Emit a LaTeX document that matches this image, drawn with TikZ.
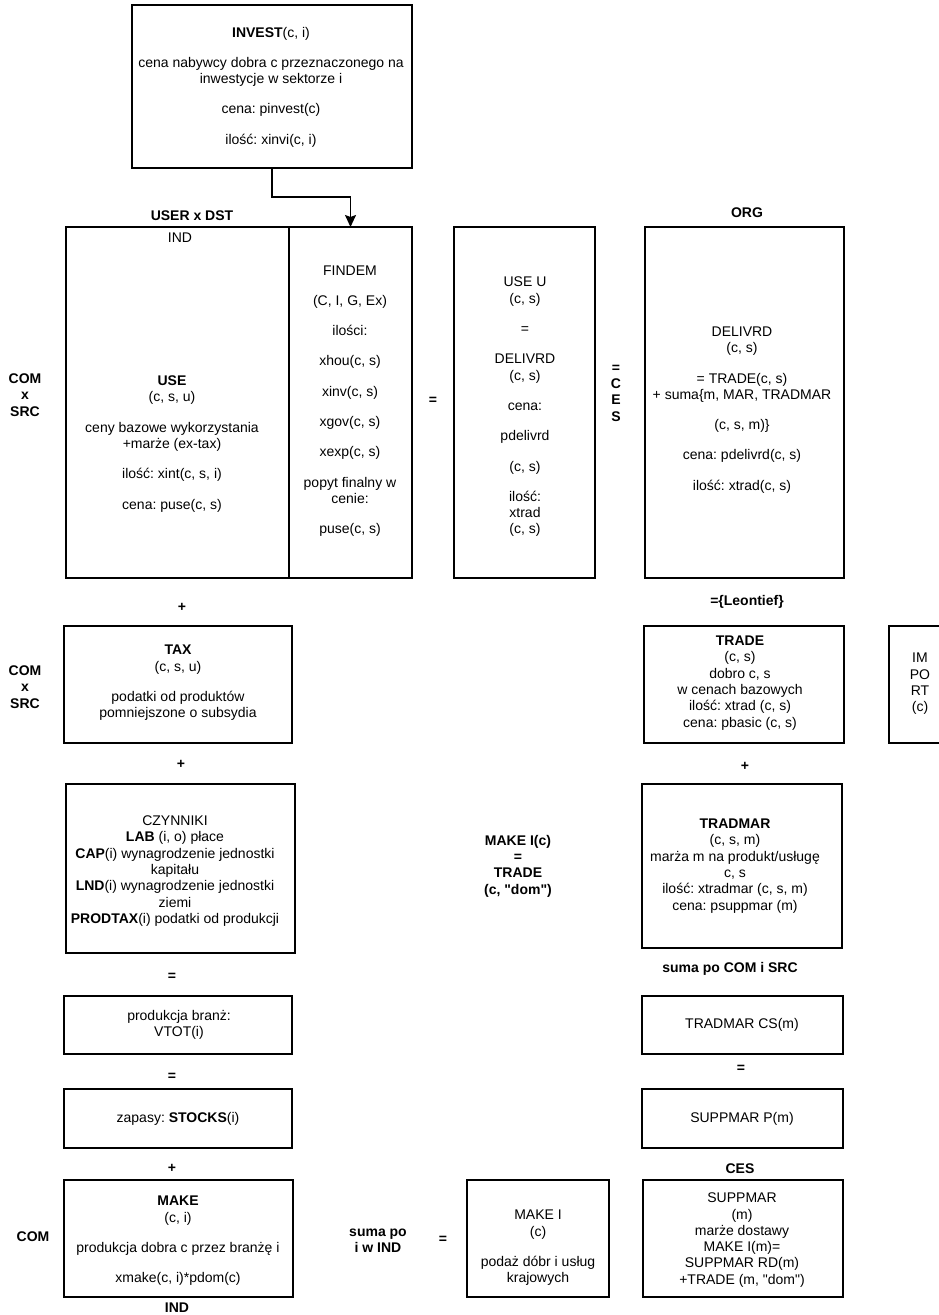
\documentclass[tikz,border=0pt]{standalone}
\usepackage{fontspec}
\setmainfont{Liberation Sans}[Ligatures=TeXOff]
\usetikzlibrary{arrows.meta}
\frenchspacing
\newcommand{\fsz}{\fontsize{14}{16.3}\selectfont}
\newcommand{\bx}[5]{\node[box, minimum width={(#4)-(#2)}, minimum height={(#5)-(#3)}] (#1) at ({((#2)+(#4))/2},{((#3)+(#5))/2}) {};}
\tikzset{
  box/.style={draw, line width=1.6pt, inner sep=0pt, outer sep=0pt},
  txt/.style={font=\fsz, align=center, inner sep=0pt},
  lbl/.style={font=\fsz\bfseries, align=center, inner sep=0pt},
  arr/.style={line width=1.6pt, -{Stealth[length=12pt,width=11pt,inset=2pt]}}
}
\begin{document}
\begin{tikzpicture}[x=1pt,y=-1pt]
\useasboundingbox (0,0) rectangle (938,1315);
% boxes
\bx{invest}{132}{5}{412}{168}
\bx{use}{66}{227}{289}{578}
\bx{findem}{289}{227}{412}{578}
\bx{useu}{454}{227}{595}{578}
\bx{delivrd}{645}{227}{844}{578}
\bx{tax}{64}{626}{292}{743}
\bx{trade}{644}{626}{844}{743}
\bx{import}{889}{626}{951}{743}
\bx{czynniki}{66}{784}{295}{953}
\bx{tradmar}{642}{784}{842}{948}
\bx{prod}{64}{996}{292}{1054}
\bx{tradmarcs}{642}{996}{843}{1054}
\bx{zapasy}{64}{1089}{292}{1148}
\bx{suppmarp}{642}{1089}{843}{1148}
\bx{make}{64}{1180}{293}{1297}
\bx{makei}{467}{1180}{609}{1297}
\bx{suppmar}{643}{1180}{843}{1297}
% arrow
\draw[arr] (invest.south) -- ++(0,29) -| (findem.north);
% box texts
\node[txt] (investT) at (271,87) {\textbf{INVEST}(c, i)\\[14pt]cena nabywcy dobra c przeznaczonego na\\inwestycje w sektorze i\\[14pt]cena: pinvest(c)\\[14pt]ilość: xinvi(c, i)};
\node[txt] (useT) at (172,444) {\textbf{USE}\\(c, s, u)\\[14pt]ceny bazowe wykorzystania\\+marże (ex-tax)\\[14pt]ilość: xint(c, s, i)\\[14pt]cena: puse(c, s)};
\node[txt] (useIND) at (180,238) {IND};
\node[txt] (findemT) at (350,401) {FINDEM\\[14pt](C, I, G, Ex)\\[14pt]ilości:\\[14pt]xhou(c, s)\\[14pt]xinv(c, s)\\[14pt]xgov(c, s)\\[14pt]xexp(c, s)\\[14pt]popyt finalny w\\cenie:\\[14pt]puse(c, s)};
\node[txt] (useuT) at (525,407) {USE U\\(c, s)\\[14pt]=\\[14pt]DELIVRD\\(c, s)\\[14pt]cena:\\[14pt]pdelivrd\\[14pt](c, s)\\[14pt]ilość:\\xtrad\\(c, s)};
\node[txt] (delivrdT) at (742,410) {DELIVRD\\(c, s)\\[14pt]= TRADE(c, s)\\+ suma\{m, MAR, TRADMAR\\[14pt](c, s, m)\}\\[14pt]cena: pdelivrd(c, s)\\[14pt]ilość: xtrad(c, s)};
\node[txt] (taxT) at (178,683) {\textbf{TAX}\\(c, s, u)\\[14pt]podatki od produktów\\pomniejszone o subsydia};
\node[txt] (tradeT) at (740,683) {\textbf{TRADE}\\(c, s)\\dobro c, s\\w cenach bazowych\\ilość: xtrad (c, s)\\cena: pbasic (c, s)};
\node[txt] (importT) at (920,684) {IM\\PO\\RT\\(c)};
\node[txt] (czynnikiT) at (175,871) {CZYNNIKI\\\textbf{LAB} (i, o) płace\\\textbf{CAP}(i) wynagrodzenie jednostki\\kapitału\\\textbf{LND}(i) wynagrodzenie jednostki\\ziemi\\\textbf{PRODTAX}(i) podatki od produkcji};
\node[txt] (tradmarT) at (735,866) {\textbf{TRADMAR}\\(c, s, m)\\marża m na produkt/usługę\\c, s\\ilość: xtradmar (c, s, m)\\cena: psuppmar (m)};
\node[txt] (prodT) at (179,1025) {produkcja branż:\\VTOT(i)};
\node[txt] (tradmarcsT) at (742,1025) {TRADMAR CS(m)};
\node[txt] (zapasyT) at (178,1119) {zapasy: \textbf{STOCKS}(i)};
\node[txt] (suppmarpT) at (742,1119) {SUPPMAR P(m)};
\node[txt] (makeT) at (178,1241) {\textbf{MAKE}\\(c, i)\\[14pt]produkcja dobra c przez branżę i\\[14pt]xmake(c, i)*pdom(c)};
\node[txt] (makeiT) at (538,1248) {MAKE I\\(c)\\[14pt]podaż dóbr i usług\\krajowych};
\node[txt] (suppmarT) at (742,1240) {SUPPMAR\\(m)\\marże dostawy\\MAKE I(m)=\\SUPPMAR RD(m)\\+TRADE (m, "dom")};
% outside labels
\node[lbl] (userdst) at (192,216) {USER x DST};
\node[lbl] (org) at (747,213) {ORG};
\node[lbl] (comsrc1) at (25,395) {COM\\x\\SRC};
\node[lbl] (eq1) at (433,401) {=};
\node[lbl] (eqces) at (616,393) {=\\C\\E\\S};
\node[lbl] (plus1) at (182,607) {+};
\node[lbl] (leontief) at (747,602) {=\{Leontief\}};
\node[lbl] (comsrc2) at (25,687) {COM\\x\\SRC};
\node[lbl] (plus2) at (181,764) {+};
\node[lbl] (plus3) at (745,766) {+};
\node[lbl] (makeic) at (518,866) {MAKE I(c)\\=\\TRADE\\(c, "dom")};
\node[lbl] (sumacs) at (730,969) {suma po COM i SRC};
\node[lbl] (eq2) at (172,977) {=};
\node[lbl] (eq3) at (741,1069) {=};
\node[lbl] (eq4) at (172,1077) {=};
\node[lbl] (plus4) at (172,1168) {+};
\node[lbl] (ces) at (740,1169) {CES};
\node[lbl] (com) at (33,1237) {COM};
\node[lbl] (sumaind) at (378,1241) {suma po\\i w IND};
\node[lbl] (eq5) at (443,1240) {=};
\node[lbl] (indb) at (177,1308) {IND};
\end{tikzpicture}
\end{document}
